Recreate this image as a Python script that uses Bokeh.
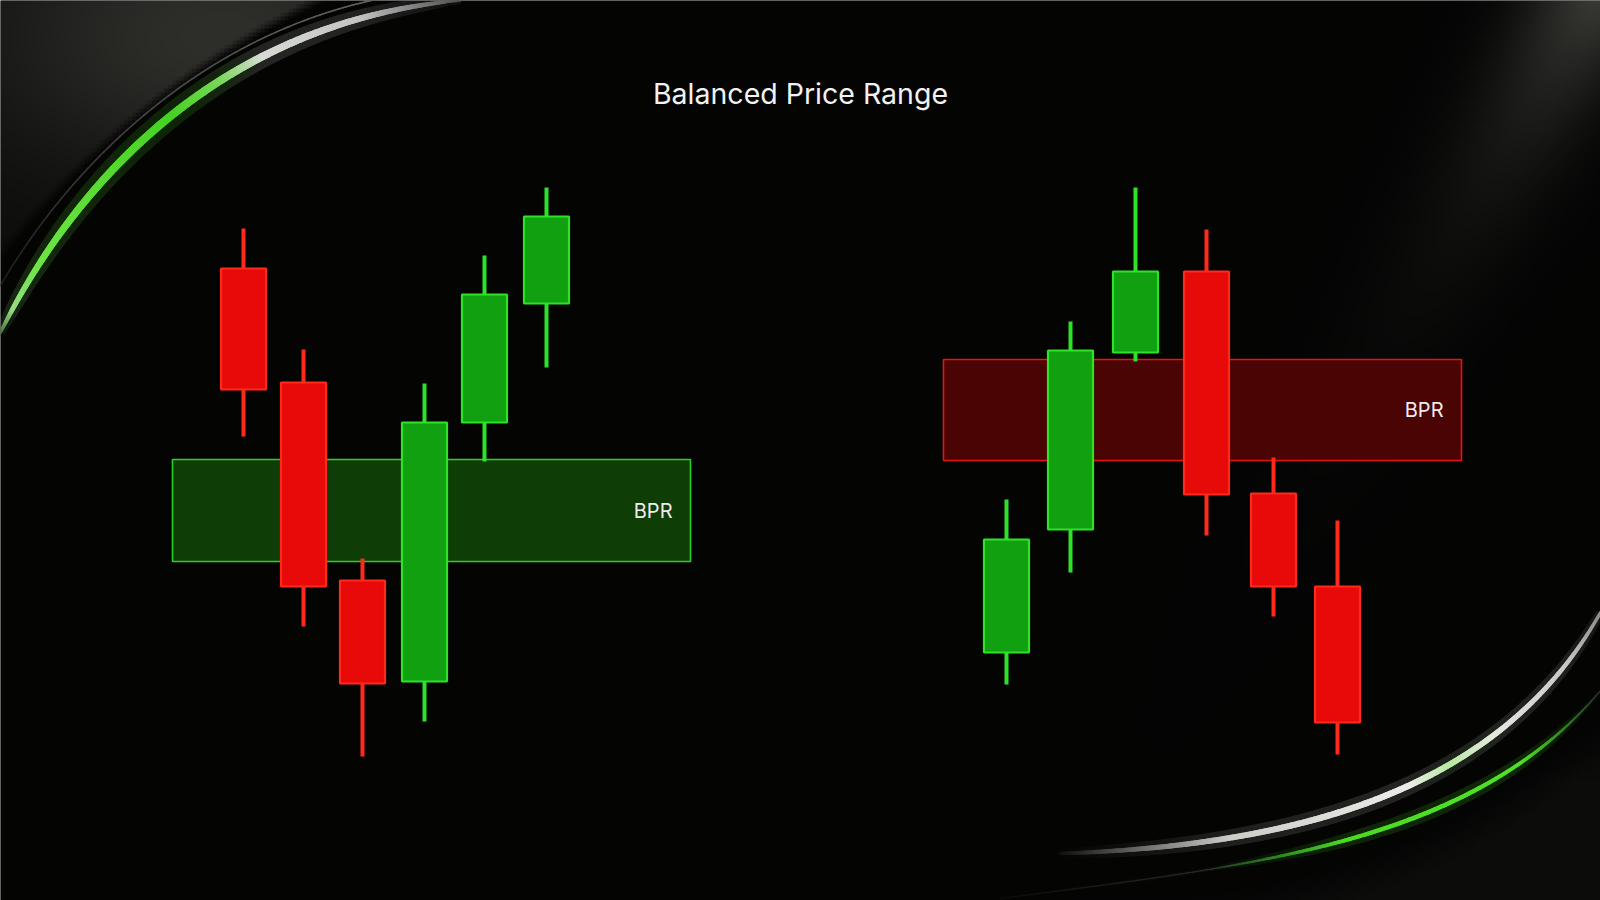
import numpy as np
from bokeh.plotting import figure
from bokeh.models import Range1d, ColumnDataSource
from bokeh.core.properties import value
from bokeh.embed import file_html
from bokeh.resources import INLINE

# ---------------- data ----------------
title_text = "Balanced Price Range"
zone_label = "BPR"

# left setup (bullish BPR)
left_x = [243, 303, 362, 424, 484, 546]
left_open = [63.2, 51.8, 32.0, 21.9, 47.8, 59.7]
left_close = [51.1, 31.4, 21.7, 47.8, 60.6, 68.4]
left_high = [67.2, 55.1, 34.2, 51.7, 64.5, 71.3]
left_low = [46.4, 27.4, 14.4, 17.9, 43.9, 53.3]

# right setup (bearish BPR)
right_x = [1006, 1070, 1135, 1206, 1273, 1337]
right_open = [24.8, 37.1, 54.8, 62.9, 40.7, 31.4]
right_close = [36.1, 55.0, 62.9, 40.6, 31.4, 17.8]
right_high = [40.1, 57.9, 71.3, 67.1, 44.3, 38.0]
right_low = [21.6, 32.8, 53.9, 36.5, 28.4, 14.6]

# BPR zones
zone_left = [172, 943]
zone_right = [690, 1461]
zone_top = [44.1, 54.1]
zone_bottom = [33.9, 44.0]
zone_kind = ["bull", "bear"]

# ---------------- styling ----------------
W, H = 1600, 900
YMAX = 90.0
BG = "#040404"
UP_FILL, UP_LINE = "#10a010", "#2ee22a"
DN_FILL, DN_LINE = "#e80a08", "#ff2a1c"
ZONE_STYLE = {"bull": ("#0e3d06", "#2fcf2a"), "bear": ("#4a0404", "#e41414")}


def py(ypix):
    """pixel row (from top) -> data y"""
    return (H - np.asarray(ypix, dtype=float)) / (H / YMAX)


p = figure(width=W, height=H, x_range=Range1d(0, W), y_range=Range1d(0, YMAX),
           output_backend="svg", toolbar_location=None, min_border=0,
           background_fill_color=BG, border_fill_color=BG)
p.axis.visible = False
p.grid.visible = False
p.outline_line_color = None

# ---------------- background glow ----------------
GW, GH = 400, 225
xs = (np.arange(GW) + 0.5) * (W / GW)
ys = H - (np.arange(GH) + 0.5) * (H / GH)  # row 0 is bottom
X, Y = np.meshgrid(xs, ys)
base = np.full(X.shape, 4.0)
r_tl = np.sqrt((X - 700) ** 2 + (Y - 800) ** 2)
mask_tl = np.clip((r_tl - 882) / 10.0, 0, 1) * (X < 700)
g1 = 34 * np.exp(-((X - 220) ** 2 / (2 * 170 ** 2) + (Y - 35) ** 2 / (2 * 100 ** 2))) * mask_tl
g1 += 8 * mask_tl
# diagonal light beam in the top-right corner
ux, uy = -0.51, 0.86  # beam direction
dxb, dyb = X - 1600, Y + 10
along = dxb * ux + dyb * uy
perp = dxb * uy - dyb * ux
g2 = 55 * np.exp(-perp ** 2 / (2 * 45 ** 2)) * np.exp(-np.clip(along, 0, None) / 170.0)
# faint haze below the bottom-right swooshes
r_br = np.sqrt((X - 1150) ** 2 + (Y - 250) ** 2)
g3 = 8 * np.clip((r_br - 640) / 40.0, 0, 1) * np.clip((X - 1050) / 250, 0, 1) * np.clip((Y - 700) / 80, 0, 1)
lum = np.clip(base + g1 + g2 + g3, 0, 255)
img = np.zeros((GH, GW), dtype=np.uint32)
view = img.view(dtype=np.uint8).reshape((GH, GW, 4))
view[:, :, 0] = lum.astype(np.uint8)
view[:, :, 1] = lum.astype(np.uint8)
view[:, :, 2] = (lum * 0.93).astype(np.uint8)
view[:, :, 3] = 255
p.image_rgba(image=[img], x=0, y=0, dw=W, dh=YMAX)


# ---------------- decorative swooshes ----------------
def bezier(P, n=260):
    t = np.linspace(0, 1, n)
    P = np.asarray(P, dtype=float)
    b = ((1 - t) ** 3)[:, None] * P[0] + (3 * (1 - t) ** 2 * t)[:, None] * P[1] \
        + (3 * (1 - t) * t ** 2)[:, None] * P[2] + (t ** 3)[:, None] * P[3]
    return t, b[:, 0], b[:, 1]


def hexcol(rgb):
    r, g, b = [int(max(0, min(255, v))) for v in rgb]
    return "#%02x%02x%02x" % (r, g, b)


def draw_curve(P, color_fn, width_fn, glow=None):
    t, bx, by = bezier(P)
    tm = (t[:-1] + t[1:]) / 2
    x0, x1 = bx[:-1], bx[1:]
    y0, y1 = py(by[:-1]), py(by[1:])
    cols = [hexcol(color_fn(v)) for v in tm]
    if glow is not None:
        gw, galpha = glow
        p.segment(x0=x0, y0=y0, x1=x1, y1=y1, line_color=cols,
                  line_width=[gw * width_fn(v) for v in tm], line_alpha=galpha, line_cap="butt")
    p.segment(x0=x0, y0=y0, x1=x1, y1=y1, line_color=cols,
              line_width=[width_fn(v) for v in tm], line_cap="round")


def lerp(a, b, f):
    return [a[i] + (b[i] - a[i]) * f for i in range(3)]


def ramp(stops, v):
    for i in range(len(stops) - 1):
        t0, c0 = stops[i]
        t1, c1 = stops[i + 1]
        if t0 <= v <= t1:
            return lerp(c0, c1, (v - t0) / (t1 - t0 + 1e-9))
    return stops[-1][1]


# top-left outer thin grey line
draw_curve([(0, 285), (70, 165), (200, 35), (380, -2)],
           lambda v: ramp([(0, (30, 30, 30)), (0.5, (70, 70, 70)), (1, (100, 100, 100))], v),
           lambda v: 1.5)

# top-left main swoosh (green -> white)
tl_stops = [(0.0, (70, 110, 60)), (0.05, (150, 220, 130)), (0.14, (110, 230, 70)),
            (0.5, (70, 210, 35)), (0.6, (120, 215, 90)), (0.68, (215, 220, 212)),
            (0.85, (195, 195, 195)), (1.0, (80, 80, 80))]
draw_curve([(0, 332), (80, 170), (230, 20), (460, 0)],
           lambda v: ramp(tl_stops, v),
           lambda v: 2.5 + 5.5 * np.sin(np.pi * min(1, max(0, v * 1.02))) ** 0.5,
           glow=(3.0, 0.16))

# bottom-right white swoosh
br_w_stops = [(0.0, (15, 15, 15)), (0.12, (110, 110, 110)), (0.25, (205, 205, 200)),
              (0.55, (235, 238, 232)), (0.63, (185, 232, 165)), (0.72, (228, 234, 224)),
              (0.9, (200, 200, 200)), (1.0, (140, 140, 140))]
draw_curve([(1060, 853), (1300, 845), (1500, 790), (1600, 612)],
           lambda v: ramp(br_w_stops, v),
           lambda v: 1.2 + 5 * np.sin(np.pi * min(1, v * 0.8 + 0.12)) ** 0.7,
           glow=(3.0, 0.14))

# bottom-right green swoosh
br_g_stops = [(0.0, (14, 14, 14)), (0.28, (40, 44, 40)), (0.4, (45, 140, 30)),
              (0.5, (75, 220, 35)), (0.82, (80, 225, 40)), (0.92, (45, 120, 30)),
              (1.0, (45, 50, 45))]
draw_curve([(1000, 898), (1250, 865), (1470, 845), (1600, 690)],
           lambda v: ramp(br_g_stops, v),
           lambda v: 1.2 + 3.2 * np.sin(np.pi * max(0, min(1, (v - 0.3) / 0.68))) ** 0.8,
           glow=(3.5, 0.16))

# ---------------- BPR zones ----------------
zsrc = ColumnDataSource(dict(
    left=zone_left, right=zone_right, top=zone_top, bottom=zone_bottom,
    fill=[ZONE_STYLE[k][0] for k in zone_kind], line=[ZONE_STYLE[k][1] for k in zone_kind],
    lx=[r - 18 for r in zone_right], ly=[(t + b) / 2 for t, b in zip(zone_top, zone_bottom)],
    label=[zone_label] * len(zone_kind)))
p.quad(left="left", right="right", top="top", bottom="bottom", source=zsrc,
       fill_color="fill", line_color="line", line_width=1.6)


# ---------------- candles ----------------
def candles(xv, o, c, h, l):
    o, c = np.asarray(o), np.asarray(c)
    up = c >= o
    src = ColumnDataSource(dict(
        x=xv, high=h, low=l,
        top=np.maximum(o, c), bottom=np.minimum(o, c),
        fill=[UP_FILL if u else DN_FILL for u in up],
        line=[UP_LINE if u else DN_LINE for u in up]))
    p.segment(x0="x", y0="low", x1="x", y1="high", source=src, line_color="line", line_width=4)
    p.vbar(x="x", width=45, top="top", bottom="bottom", source=src,
           fill_color="fill", line_color="line", line_width=2.2)


candles(left_x, left_open, left_close, left_high, left_low)
candles(right_x, right_open, right_close, right_high, right_low)

# ---------------- texts ----------------
p.text(x="lx", y="ly", text="label", source=zsrc, text_align="right", text_baseline="middle",
       text_color="#ececec", text_font=value("Inter"), text_font_size="20px")
p.text(x=[W / 2], y=[float(py(93))], text=[title_text], text_align="center",
       text_baseline="middle", text_color="#f2f2f2", text_font=value("Inter"),
       text_font_size="28.5px")

open("out.html", "w").write(file_html(p, INLINE))
